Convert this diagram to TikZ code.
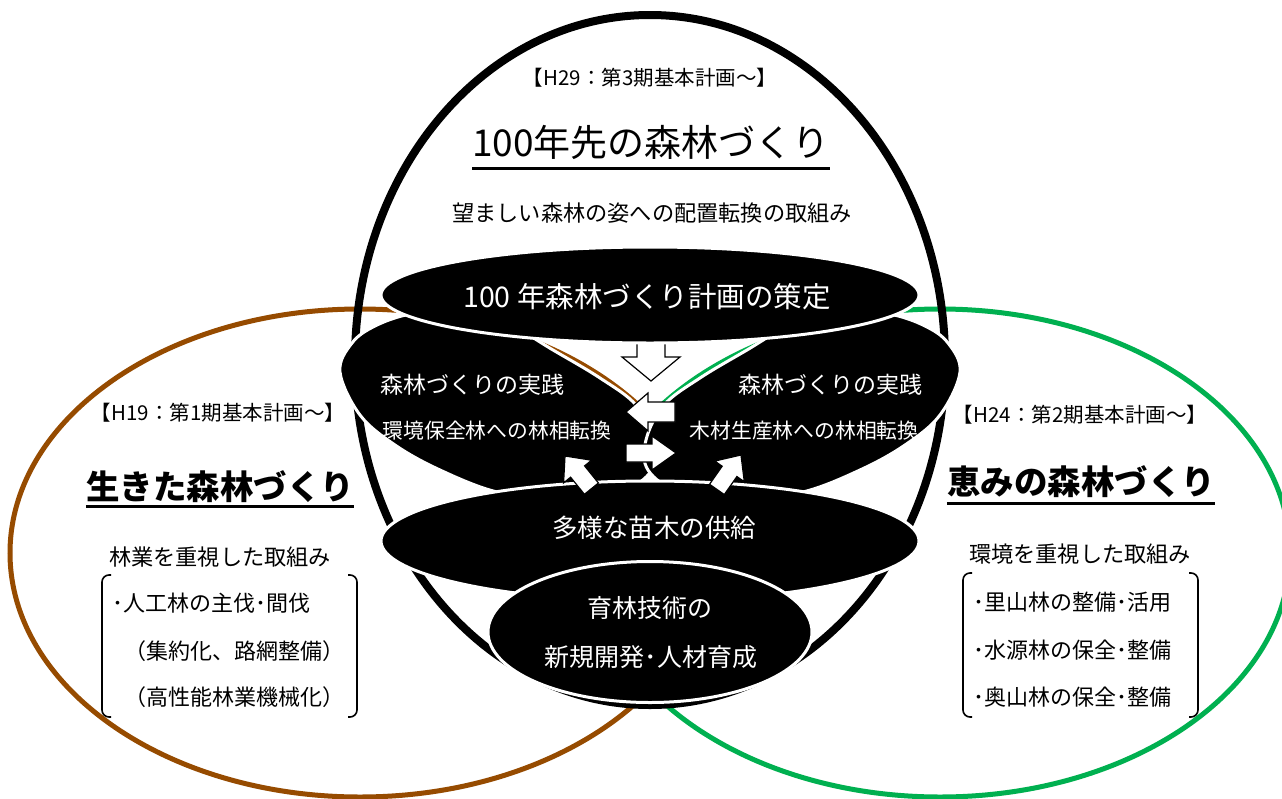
\documentclass[tikz,border=0pt]{standalone}
\usepackage{fontspec}
\usetikzlibrary{shapes.geometric,calc}
\newfontfamily\jp{Noto Sans CJK JP}
\definecolor{browncol}{RGB}{150,75,0}
\definecolor{greencol}{RGB}{0,176,80}
\tikzset{
  blob/.style={fill=black, draw=white, line width=3pt},
  blobnode/.style={ellipse, fill=black, draw=white, line width=3pt, inner sep=0pt},
  arrowline/.style={fill=white, draw=black, line width=1.2pt, line join=miter},
  txt/.style={inner sep=0pt, anchor=base, text=black},
  wtxt/.style={inner sep=0pt, anchor=base, text=white},
  ltxt/.style={inner sep=0pt, anchor=base west, text=black},
  bracket/.style={line width=1.6pt, rounded corners=7pt},
  uline/.style={line width=3pt},
  pics/blockarrow/.style n args={4}{code={%
    \path[arrowline] (0,0) -- (-#4,#3/2) -- (-#4,#2/2) -- (-#1,#2/2) -- (-#1,-#2/2) -- (-#4,-#2/2) -- (-#4,-#3/2) -- cycle;}}
}
\newcommand{\fs}[1]{\fontsize{#1}{#1}\selectfont}
\begin{document}
\begin{tikzpicture}[x=1pt,y=-1pt]
\useasboundingbox (0,0) rectangle (1282,798);
\fill[white] (0,0) rectangle (1282,798);
% coloured circles
\draw[browncol, line width=5pt] (360,553) ellipse [x radius=350, y radius=244];
\draw[greencol, line width=5pt] (940,553) ellipse [x radius=350, y radius=244];
% big black ring
\draw[black, line width=8pt] (650,360) ellipse [x radius=295, y radius=345];
% practice blobs
\path[blob] plot[smooth cycle, tension=0.6] coordinates {(340,372) (352,343) (375,326) (410,314) (460,308) (510,325) (553,350) (600,378) (636,405) (654,440) (652,470) (620,492) (560,500) (497,492) (440,470) (395,445) (360,415)};
\path[blob] plot[smooth cycle, tension=0.6] coordinates {(960,372) (948,343) (925,326) (890,314) (840,308) (790,325) (747,350) (700,378) (664,405) (646,440) (648,470) (680,492) (740,500) (803,492) (860,470) (905,445) (940,415)};
% down arrow
\pic[rotate=-90] at (651,381) {blockarrow={44}{28}{58}{24}};
% ellipses
\node[blobnode, minimum width=538pt, minimum height=96pt] (plan) at (650,295) {};
\node[blobnode, minimum width=538pt, minimum height=120pt] (supply) at (650,541) {};
\node[blobnode, minimum width=324pt, minimum height=141pt] (tech) at (650,632) {};
% other arrows
\pic[rotate=180] at (626,412) {blockarrow={49}{20}{38}{22}};
\pic[rotate=0] at (676,453) {blockarrow={50}{18}{34}{24}};
\pic[rotate=129] at (565,456) {blockarrow={42}{18}{36}{20}};
\pic[rotate=55] at (741,455) {blockarrow={42}{18}{36}{20}};
% top texts
\node[txt, font=\jp\fs{20.5}] (h29) at (650,85) {【H29：第3期基本計画～】};
\node[txt, font=\jp\fs{37}] (t100) at (651,156) {100年先の森林づくり};
\draw[uline] ($(t100.base west)+(0,12)$) -- ($(t100.base east)+(0,12)$);
\node[txt, font=\jp\fs{22.2}] (hope) at (652,221) {望ましい森林の姿への配置転換の取組み};
\node[wtxt, font=\jp\fs{28.5}] (plantxt) at (647,307) {100 年森林づくり計画の策定};
% blob texts
\node[wtxt, font=\jp\fs{23}] (pl1) at (472,393) {森林づくりの実践};
\node[wtxt, font=\jp\fs{20.8}] (pl2) at (497,438) {環境保全林への林相転換};
\node[wtxt, font=\jp\fs{23}] (pr1) at (830,393) {森林づくりの実践};
\node[wtxt, font=\jp\fs{20.8}] (pr2) at (804,438) {木材生産林への林相転換};
\node[wtxt, font=\jp\fs{25.5}] (suptxt) at (654,537) {多様な苗木の供給};
\node[wtxt, font=\jp\fs{25}] (tech1) at (650,617) {育林技術の};
\node[wtxt, font=\jp\fs{25}] (tech2) at (651,666) {新規開発･人材育成};
% left side
\node[txt, font=\jp\fs{20.5}] (h19) at (218,420) {【H19：第1期基本計画～】};
\node[txt, font=\jp\bfseries\fs{33.5}] (ikita) at (220,499) {生きた森林づくり};
\draw[uline] ($(ikita.base west)+(0,7)$) -- ($(ikita.base east)+(0,7)$);
\node[txt, font=\jp\fs{22.2}] (ringyo) at (220,565) {林業を重視した取組み};
\node[ltxt, font=\jp\fs{22}] (l1) at (112,611) {･人工林の主伐･間伐};
\node[ltxt, font=\jp\fs{22}] (l2) at (124,659) {（集約化、路網整備）};
\node[ltxt, font=\jp\fs{22}] (l3) at (124,705) {（高性能林業機械化）};
\draw[bracket] (111,575) -- (102,575) -- (102,717) -- (111,717);
\draw[bracket] (348,575) -- (357,575) -- (357,717) -- (348,717);
% right side
\node[txt, font=\jp\fs{20.5}] (h24) at (1080,422) {【H24：第2期基本計画～】};
\node[txt, font=\jp\bfseries\fs{33.5}] (megumi) at (1081,494) {恵みの森林づくり};
\draw[uline] ($(megumi.base west)+(0,9)$) -- ($(megumi.base east)+(0,9)$);
\node[txt, font=\jp\fs{22.2}] (kankyo) at (1080,562) {環境を重視した取組み};
\node[ltxt, font=\jp\fs{22}] (r1) at (973,610) {･里山林の整備･活用};
\node[ltxt, font=\jp\fs{22}] (r2) at (973,658) {･水源林の保全･整備};
\node[ltxt, font=\jp\fs{22}] (r3) at (973,705) {･奥山林の保全･整備};
\draw[bracket] (972,573) -- (963,573) -- (963,717) -- (972,717);
\draw[bracket] (1189,573) -- (1198,573) -- (1198,717) -- (1189,717);
\end{tikzpicture}
\end{document}
